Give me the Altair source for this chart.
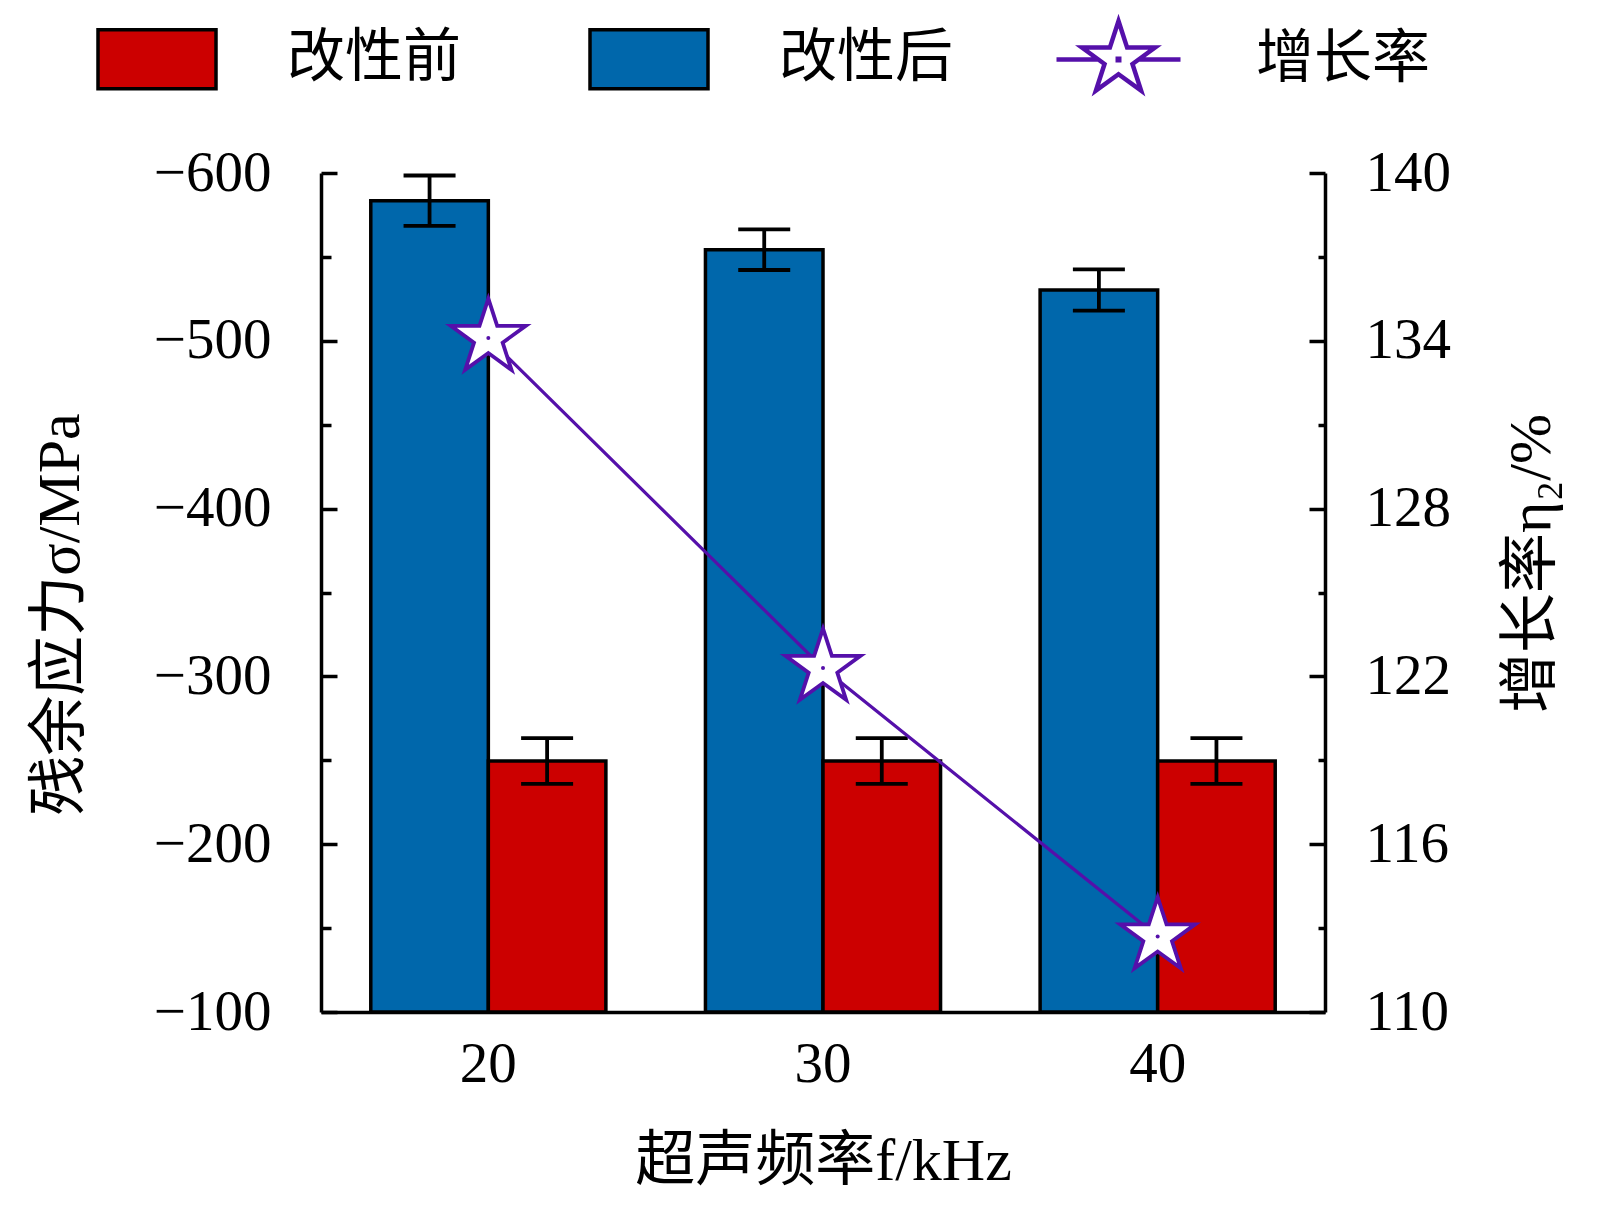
import math
import altair as alt
import pandas as pd

# ---------------- data ----------------
freq = ["20", "30", "40"]
after_mod = [-583.5, -554.3, -530.3]      # 改性后
after_err = [15.0, 12.1, 12.3]
before_mod = [-249.6, -249.6, -249.6]     # 改性前
before_err = [13.6, 13.6, 13.6]
rate = [134.1, 122.3, 112.7]              # 增长率 η2 / %

stress_major = [-600, -500, -400, -300, -200, -100]
stress_minor = [-550, -450, -350, -250, -150]
rate_major = [110, 116, 122, 128, 134, 140]
rate_minor = [113, 119, 125, 131, 137]

series_order = ["改性后", "改性前"]
legend_order = ["改性前", "改性后"]

# ---------------- styles ----------------
FONT = "Liberation Serif, Noto Sans CJK SC"
RED = "#CC0000"
BLUE = "#0067AB"
PURPLE = "#5510AA"
W, H = 1004, 839


def star_path(R=1.0):
    pts = []
    for k in range(10):
        ang = math.radians(-90 + 36 * k)
        r = R if k % 2 == 0 else R * 0.382
        pts.append((r * math.cos(ang), r * math.sin(ang)))
    return "M" + " L".join(f"{x:.4f},{y:.4f}" for x, y in pts) + " Z"


STAR = star_path(1.0)
LEG_STAR = (star_path(0.62) + " M-1,0 L-0.33,0 M0.33,0 L1,0"
            + " M-0.012,-0.012 L0.012,-0.012 L0.012,0.012 L-0.012,0.012 Z")
RECT = "M-1,-0.5 L1,-0.5 L1,0.5 L-1,0.5 Z"

bars_df = pd.DataFrame({
    "freq": freq * 2,
    "series": ["改性后"] * 3 + ["改性前"] * 3,
    "value": after_mod + before_mod,
    "err": after_err + before_err,
})
rate_df = pd.DataFrame({"freq": freq, "rate": rate, "name": ["增长率"] * 3})

x_axis = alt.Axis(labelAngle=0, labelFont=FONT, labelFontSize=57, labelColor="black",
                  labelPadding=24, ticks=False, tickSize=0, domain=True,
                  domainColor="black", domainWidth=3.5, grid=False,
                  titleFont=FONT, titleFontSize=60, titleFontWeight="normal",
                  titleColor="black", titlePadding=40)
X = alt.X("freq:N", sort=freq, title="超声频率f/kHz",
          scale=alt.Scale(paddingInner=0, paddingOuter=0), axis=x_axis)
XO = alt.XOffset("series:N", sort=series_order,
                 scale=alt.Scale(domain=series_order, paddingInner=0, paddingOuter=0.4235))

S = alt.Scale(domain=[-600, -100], reverse=True, zero=False, nice=False)
R = alt.Scale(domain=[110, 140], zero=False, nice=False)

left_axis = alt.Axis(orient="left", values=stress_major, labelFont=FONT, labelFontSize=57,
                     labelColor="black", labelPadding=50, ticks=False, tickSize=0,
                     domain=True, domainColor="black", domainWidth=3.5, grid=False,
                     titleFont=FONT, titleFontSize=60, titleFontWeight="normal",
                     titleColor="black", titleAngle=270, titleX=-261, titleY=441,
                     titleBaseline="middle", titleAlign="center")
right_axis = alt.Axis(orient="right", values=rate_major, labelFont=FONT, labelFontSize=57,
                      labelColor="black", labelPadding=40, ticks=False, tickSize=0,
                      domain=True, domainColor="black", domainWidth=3.5, grid=False,
                      titleFont=FONT, titleFontSize=60, titleFontWeight="normal",
                      titleColor="black", titleAngle=270, titleX=206, titleY=390,
                      titleBaseline="middle", titleAlign="center")


def tick_axis(orient, values, size):
    return alt.Axis(orient=orient, offset=-W, values=values, labels=False, domain=False,
                    ticks=True, tickSize=size, tickWidth=3.5, tickColor="black", grid=False)


leg1 = alt.Legend(title=None, orient="none", legendX=-225, legendY=-175,
                  direction="horizontal", symbolType=RECT, symbolSize=13924,
                  symbolStrokeColor="black", symbolStrokeWidth=3.5, symbolOpacity=1,
                  labelFont=FONT, labelFontSize=58, labelColor="black", labelOffset=69,
                  labelLimit=500, columnPadding=121, padding=0)
leg2 = alt.Legend(title=None, orient="none", legendX=733, legendY=-178,
                  direction="horizontal", symbolType=LEG_STAR, symbolSize=15376,
                  symbolStrokeWidth=4.5, symbolFillColor="white", symbolOpacity=1,
                  labelFont=FONT, labelFontSize=58, labelColor="black", labelOffset=73,
                  labelLimit=500, padding=0)

base = alt.Chart(bars_df).transform_calculate(
    lo="datum.value - datum.err", hi="datum.value + datum.err")

bars = base.mark_bar(stroke="black", strokeWidth=3.5).encode(
    x=X, xOffset=XO,
    y=alt.Y("value:Q", scale=S, axis=left_axis, title="残余应力σ/MPa"),
    y2=alt.datum(-100),
    color=alt.Color("series:N", scale=alt.Scale(domain=legend_order, range=[RED, BLUE]),
                    legend=leg1),
)
rules = base.mark_rule(color="black", strokeWidth=3.8).encode(
    x=X, xOffset=XO,
    y=alt.Y("lo:Q", scale=S, axis=tick_axis("right", stress_major, 16), title=None),
    y2="hi:Q",
)
caps_lo = base.mark_tick(color="black", size=52, thickness=3.8, opacity=1).encode(
    x=X, xOffset=XO,
    y=alt.Y("lo:Q", scale=S, axis=tick_axis("right", stress_minor, 10), title=None),
)
caps_hi = base.mark_tick(color="black", size=52, thickness=3.8, opacity=1).encode(
    x=X, xOffset=XO,
    y=alt.Y("hi:Q", scale=S, axis=None),
)

rbase = alt.Chart(rate_df)
line = rbase.mark_line(strokeWidth=3.2).encode(
    x=X,
    y=alt.Y("rate:Q", scale=R, axis=right_axis, title="增长率η₂/%"),
    color=alt.Color("name:N", scale=alt.Scale(domain=["增长率"], range=[PURPLE]), legend=leg2),
)
stars = rbase.mark_point(shape=STAR, size=6209, filled=True, fill="white", stroke=PURPLE,
                         strokeWidth=3.8, opacity=1).encode(
    x=X,
    y=alt.Y("rate:Q", scale=R, axis=tick_axis("left", rate_major, 16), title=None),
)
dots = rbase.mark_point(shape="circle", size=16, filled=True, color=PURPLE, opacity=1).encode(
    x=X,
    y=alt.Y("rate:Q", scale=R, axis=tick_axis("left", rate_minor, 7), title=None),
)

chart = alt.layer(bars, rules, caps_lo, caps_hi, line, stars, dots).resolve_scale(
    y="independent", color="independent"
).properties(
    width=W, height=H,
    autosize=alt.AutoSizeParams(type="none"),
    padding={"left": 313, "top": 165, "right": 270, "bottom": 190},
    background="white",
).configure_view(strokeOpacity=0)

chart.save("out.html", embed_options={"renderer": "svg", "actions": False})
